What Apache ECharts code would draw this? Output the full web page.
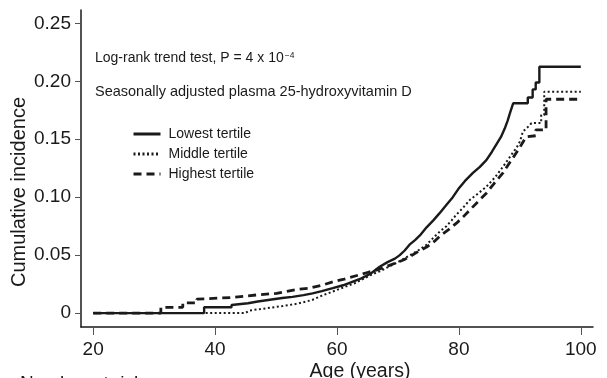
<!DOCTYPE html>
<html>
<head>
<meta charset="utf-8">
<script src="https://cdn.jsdelivr.net/npm/echarts@6/dist/echarts.min.js"></script>
<style>
html,body{margin:0;padding:0;background:#fff;}
#chart{width:607px;height:378px;}
</style>
</head>
<body>
<div id="chart"></div>
<script>
// ---- Data ----
var seriesNames = ['Lowest tertile', 'Middle tertile', 'Highest tertile'];
var xTicks = [20, 40, 60, 80, 100];
var yTicks = [0, 0.05, 0.10, 0.15, 0.20, 0.25];
var yTickLabels = ['0', '0.05', '0.10', '0.15', '0.20', '0.25'];

var lowest = [[20,0],[38.2,0],[38.2,0.005],[42.7,0.005],[42.7,0.007],[45.4,0.0085],[47,0.010],[49,0.0115],[51,0.013],[52.7,0.014],[54.5,0.0155],[56,0.017],[57.5,0.019],[59.3,0.0215],[61,0.024],[62.5,0.027],[64,0.030],[65.5,0.034],[67,0.040],[68.3,0.044],[69.5,0.047],[70.3,0.050],[71.1,0.054],[71.9,0.059],[72.8,0.063],[73.6,0.067],[74.7,0.074],[75.8,0.080],[76.8,0.086],[77.9,0.093],[79,0.100],[79.9,0.107],[81,0.114],[82.3,0.121],[83.4,0.126],[84.5,0.132],[85.4,0.139],[86.2,0.146],[86.9,0.152],[87.5,0.159],[88,0.166],[88.4,0.173],[88.9,0.181],[91.3,0.181],[91.3,0.186],[92.1,0.186],[92.1,0.193],[92.6,0.193],[92.6,0.199],[93.2,0.199],[93.2,0.2125],[100,0.2125]];

var middle = [[20,0],[44.9,0],[45.7,0.0023],[47.5,0.0035],[49,0.0046],[51,0.006],[53.4,0.008],[55,0.010],[56,0.0115],[57.5,0.015],[59,0.018],[60,0.020],[61.5,0.023],[63,0.026],[64.5,0.030],[66,0.034],[67,0.036],[68.5,0.040],[70,0.044],[71,0.047],[72,0.050],[73.3,0.054],[74.7,0.059],[76,0.066],[77,0.071],[77.9,0.0747],[78.8,0.080],[79.6,0.085],[80.7,0.091],[81.8,0.0977],[83.1,0.103],[84.5,0.109],[85.9,0.117],[87.2,0.126],[88,0.132],[88.8,0.138],[89.5,0.143],[90,0.148],[90.5,0.1566],[91.6,0.162],[91.9,0.164],[93.5,0.164],[93.5,0.171],[94,0.171],[94,0.191],[100,0.191]];

var highest = [[20,0],[31.1,0],[31.1,0.005],[34.7,0.005],[34.7,0.0089],[37,0.0089],[37,0.012],[42.9,0.0135],[45.2,0.0148],[47.5,0.016],[50.1,0.017],[52,0.019],[53.9,0.0207],[55.5,0.0215],[57.5,0.024],[59.3,0.027],[61,0.029],[63,0.032],[65,0.035],[67,0.038],[68.5,0.041],[70,0.044],[71,0.046],[72,0.049],[73.3,0.053],[74.7,0.057],[76,0.062],[77,0.067],[78.3,0.072],[79.6,0.0776],[80.7,0.083],[81.8,0.089],[83.1,0.096],[84.5,0.1034],[85.8,0.112],[87.2,0.1207],[88.1,0.128],[89,0.135],[90,0.143],[91,0.152],[92.6,0.153],[92.6,0.158],[94.3,0.158],[94.3,0.1845],[100,0.1845]];

var annotation1 = 'Log-rank trend test, P = 4 x 10';
var annotation1Sup = '\u22124';
var annotation2 = 'Seasonally adjusted plasma 25-hydroxyvitamin D';
var yTitle = 'Cumulative incidence';
var xTitle = 'Age (years)';
var footText = 'Number at risk';

// ---- Chart ----
var FONT = '"Liberation Sans", Arial, Helvetica, sans-serif';
var INK = '#1a1a1a';
var chart = echarts.init(document.getElementById('chart'), null, {renderer: 'canvas'});

function lineSeries(name, data, lineStyle, z) {
  return {
    name: name, type: 'line', data: data,
    symbol: 'none', showSymbol: false, z: z,
    lineStyle: lineStyle, itemStyle: {color: INK},
    emphasis: {disabled: true}, animation: false
  };
}

var option = {
  animation: false,
  backgroundColor: '#fff',
  grid: {left: 81, right: 14, top: 10, bottom: 51, containLabel: false},
  xAxis: {
    type: 'value', min: 18, max: 102,
    axisLine: {show: true, onZero: false, lineStyle: {color: INK, width: 1.5}},
    axisTick: {show: true, length: 8, customValues: xTicks, lineStyle: {color: '#555', width: 1}},
    axisLabel: {customValues: xTicks, margin: 13, fontSize: 19, color: INK, fontFamily: FONT},
    splitLine: {show: false}
  },
  yAxis: {
    type: 'value', min: -0.012, max: 0.2615,
    axisLine: {show: true, onZero: false, lineStyle: {color: INK, width: 1.5}},
    axisTick: {show: true, length: 6, customValues: yTicks, lineStyle: {color: '#555', width: 1}},
    axisLabel: {
      customValues: yTicks, margin: 10, fontSize: 19, color: INK, fontFamily: FONT,
      formatter: function (v) {
        var i = yTicks.findIndex(function (t) { return Math.abs(t - v) < 1e-9; });
        return i >= 0 ? yTickLabels[i] : '';
      }
    },
    splitLine: {show: false}
  },
  legend: {
    show: true, orient: 'vertical', left: 127, top: 122,
    itemWidth: 27, itemHeight: 14, itemGap: 6,
    data: seriesNames,
    itemStyle: {opacity: 0},
    lineStyle: {width: 3},
    textStyle: {fontSize: 14, color: INK, fontFamily: FONT, padding: [0, 0, 0, 3]},
    selectedMode: false
  },
  series: [
    lineSeries(seriesNames[1], middle, {color: INK, width: 2, type: [2, 2.5], cap: 'butt'}, 2),
    lineSeries(seriesNames[2], highest, {color: INK, width: 2.8, type: [8, 5], cap: 'butt'}, 3),
    lineSeries(seriesNames[0], lowest, {color: INK, width: 2.4, type: 'solid'}, 4)
  ],
  graphic: [
    {type: 'text', left: 95, top: 51, silent: true,
      style: {text: annotation1 + '{sup|' + annotation1Sup + '}', fill: INK, fontSize: 14, fontFamily: FONT,
        rich: {sup: {fontSize: 8.5, fill: INK, fontFamily: FONT, verticalAlign: 'top', padding: [0, 0, 6, 1]}}}},
    {type: 'text', left: 95, top: 84, silent: true,
      style: {text: annotation2, fill: INK, fontSize: 14.5, fontFamily: FONT}},
    {type: 'text', x: 19, y: 192, rotation: Math.PI / 2, silent: true,
      style: {text: yTitle, fill: INK, fontSize: 20, fontFamily: FONT, align: 'center', verticalAlign: 'middle'}},
    {type: 'text', x: 360, y: 372, silent: true,
      style: {text: xTitle, fill: INK, fontSize: 19.5, fontFamily: FONT, align: 'center', verticalAlign: 'middle'}},
    {type: 'text', x: 20, y: 374, silent: true,
      style: {text: footText, fill: INK, fontSize: 19, fontFamily: FONT, align: 'left', verticalAlign: 'top'}}
  ]
};
chart.setOption(option);
</script>
</body>
</html>
